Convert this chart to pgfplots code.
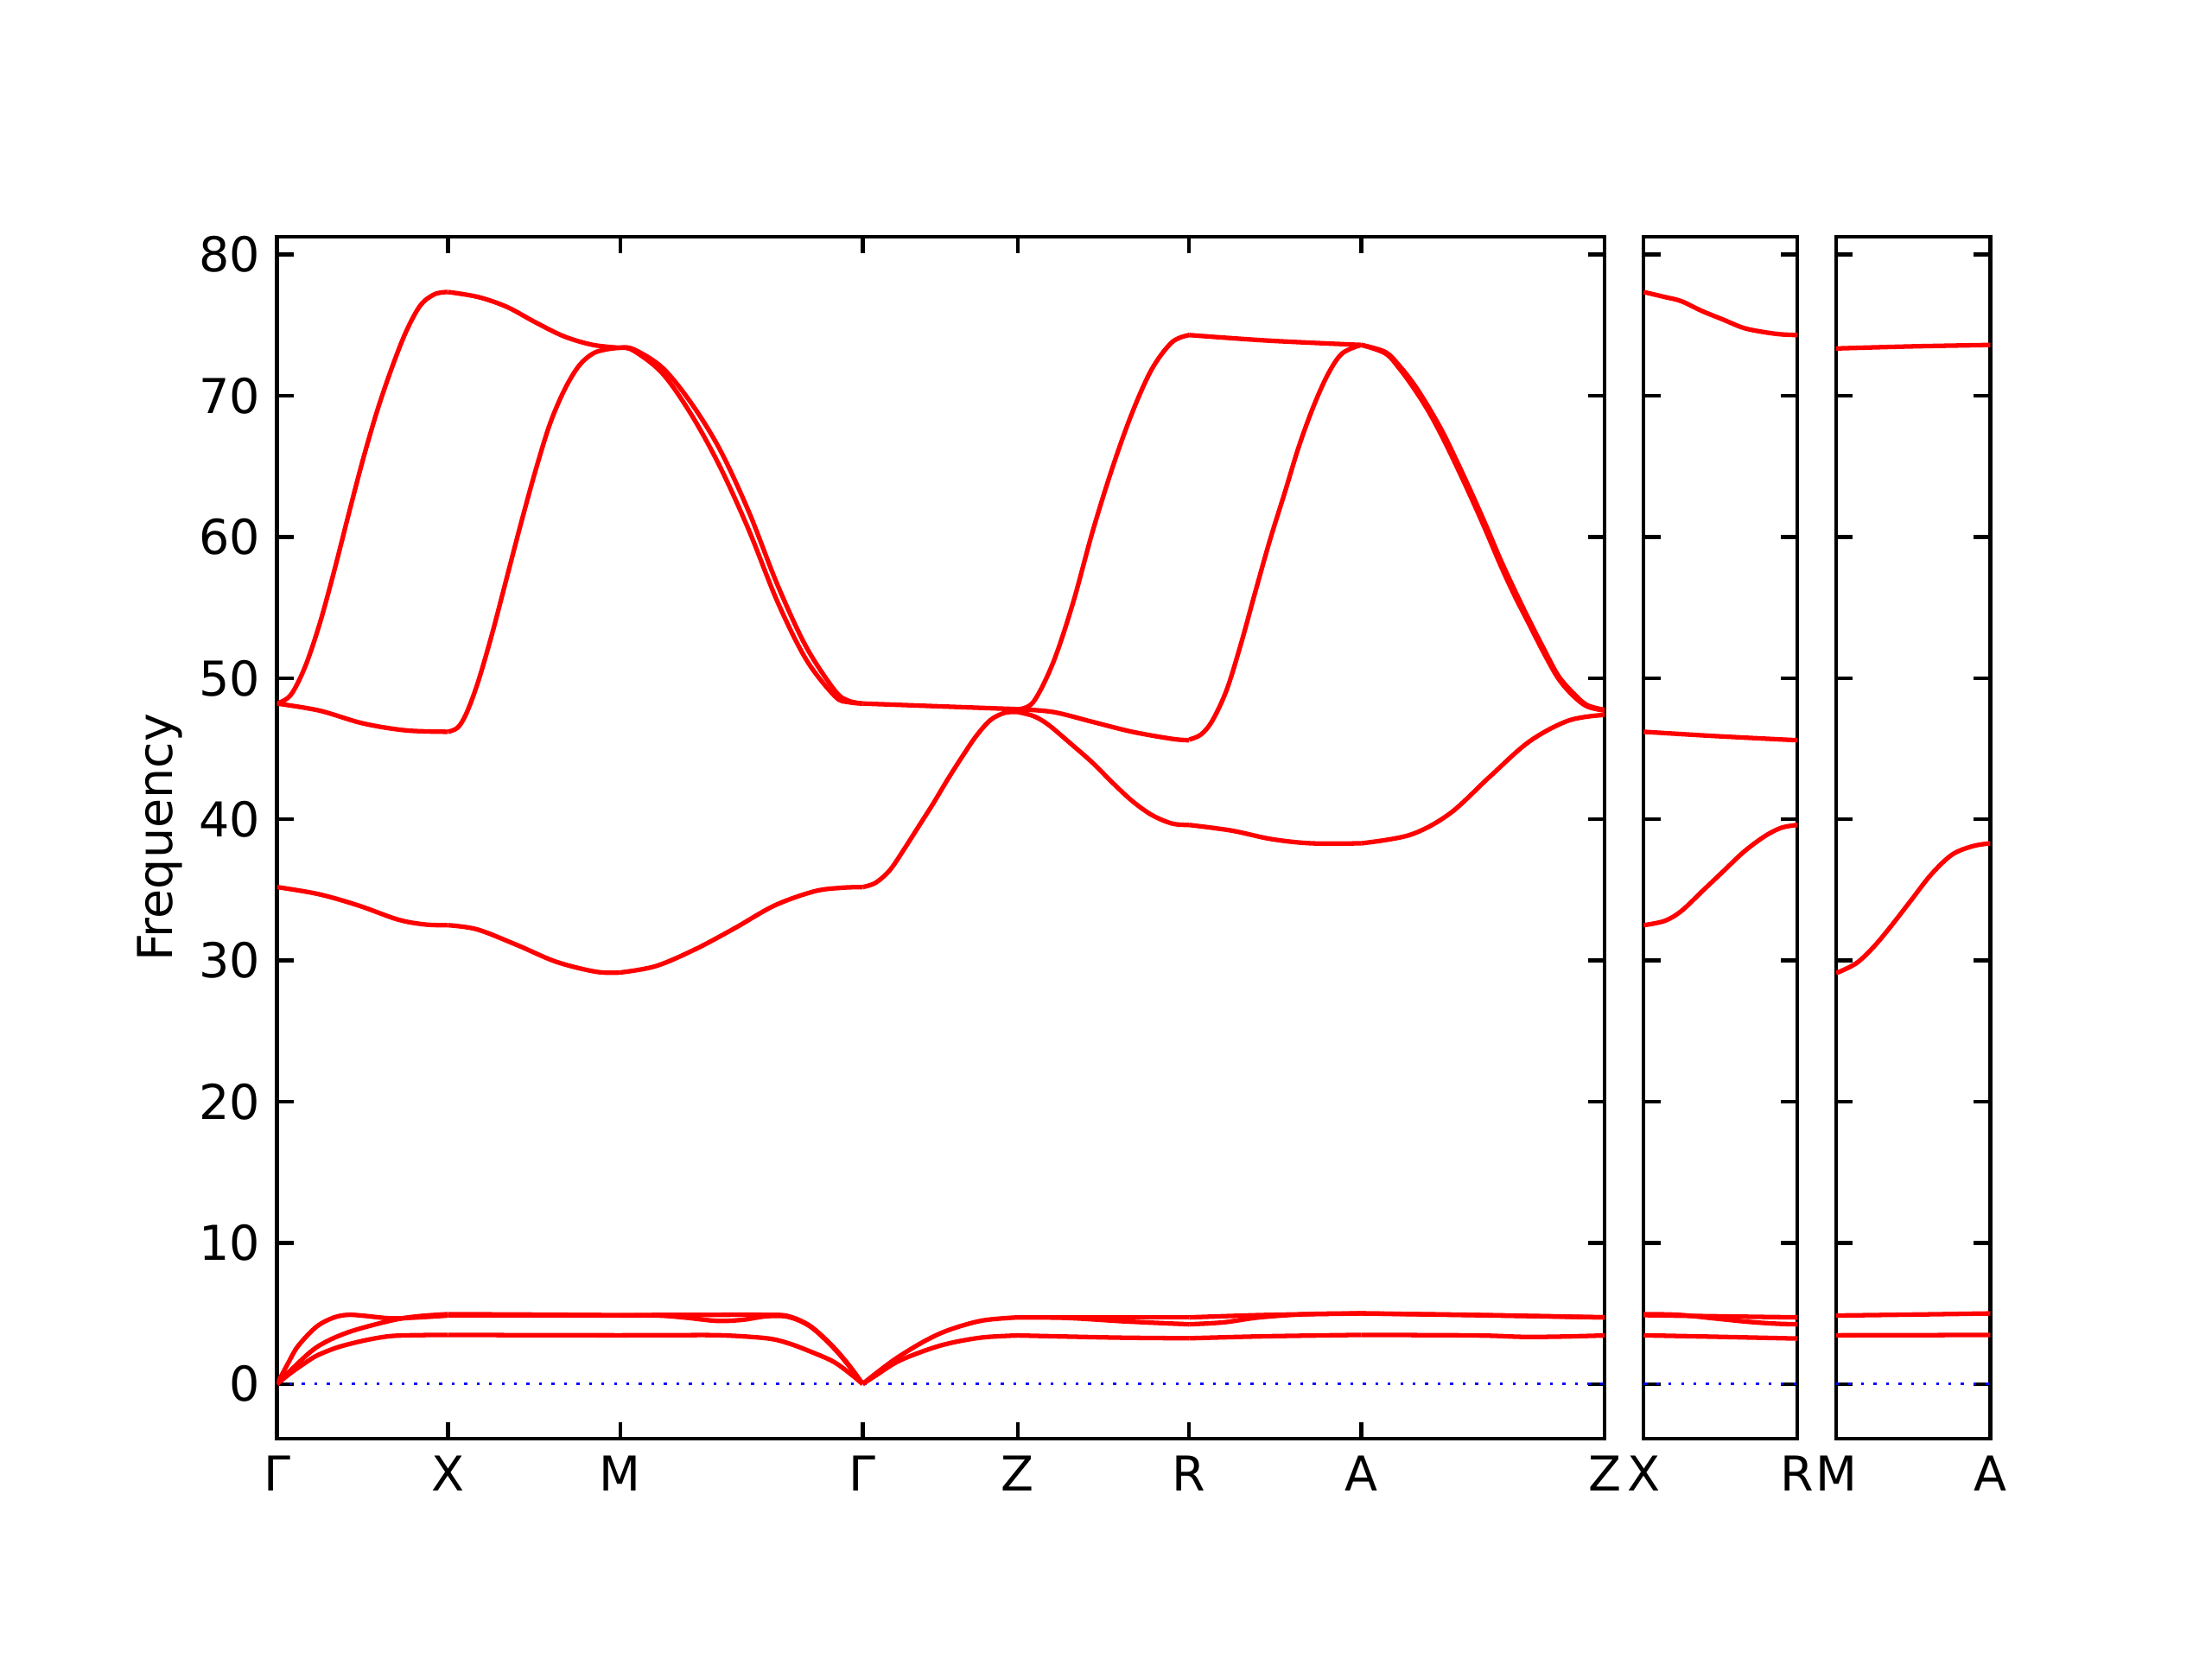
\documentclass[border=0pt]{standalone}
\usepackage{fontspec}
\setmainfont{DejaVu Sans}
\usepackage{pgfplots}
\pgfplotsset{compat=1.18}
\pgfplotsset{
  bandax/.style={
    scale only axis,
    height=250.4pt,
    ymin=-3.87, ymax=81.27,
    ytick={0,10,...,80},
    tick align=inside,
    tick pos=both,
    major tick length=3.5pt,
    every tick/.style={black, line width=0.8pt},
    axis line style={line width=0.8pt},
    /pgf/number format/assume math mode=true,
    ticklabel style={font=\fontsize{10}{12}\selectfont},
    label style={font=\fontsize{10}{12}\selectfont},
    clip=true,
  },
  band/.style={red, line width=0.95pt, smooth, tension=0.55},
  zero/.style={blue, dotted, line width=0.6pt},
}
\begin{document}
\begin{tikzpicture}
\useasboundingbox (0,0) rectangle (460.8pt,345.6pt);
% ---------------- main panel ----------------
\begin{axis}[bandax,
  at={(57.7pt,45.9pt)}, anchor=south west,
  width=276.6pt,
  xmin=0, xmax=940.9,
  xtick={0,121.2,243.2,415,525,646.4,768.4,940.9},
  xticklabels={Γ,X,M,Γ,Z,R,A,Z},
  ylabel={Frequency},
  ylabel shift=-3.5pt,
]
\addplot[zero] coordinates {(0,0) (940.9,0)};
% Gamma - X
\addplot[band] coordinates {(0,0) (10,0.8) (20,1.5) (28,2.0) (40,2.5) (50,2.8) (65,3.15) (81,3.4) (100,3.46) (121.2,3.48)};
\addplot[band] coordinates {(0,0) (10,1.0) (28,2.6) (50,3.65) (81,4.5) (100,4.8) (121.2,4.95)};
\addplot[band] coordinates {(0,0) (8,1.5) (15,2.7) (28,4.06) (40,4.7) (50,4.9) (60,4.85) (81,4.65) (100,4.72) (121.2,4.85)};
\addplot[band] coordinates {(0,35.2) (29.5,34.7) (57.6,33.9) (85.7,32.9) (105,32.55) (121.2,32.5)};
\addplot[band] coordinates {(0,48.2) (9.7,48.8) (19.9,50.8) (30.1,53.8) (40.3,57.5) (50.5,61.5) (60.7,65.4) (70.9,68.9) (81.1,71.9) (91.3,74.5) (101.6,76.4) (111.8,77.2) (121.2,77.35)};
\addplot[band] coordinates {(0,48.2) (30.1,47.7) (60.7,46.8) (91.3,46.3) (121.2,46.2)};
% X - M
\addplot[band] coordinates {(121.2,3.48) (180,3.46) (243.2,3.45)};
\addplot[band] coordinates {(121.2,4.95) (180,4.92) (243.2,4.88)};
\addplot[band] coordinates {(121.2,4.85) (180,4.85) (243.2,4.85)};
\addplot[band] coordinates {(121.2,32.5) (141.9,32.2) (170,31.1) (198.1,29.9) (226.2,29.2) (243.2,29.15)};
\addplot[band] coordinates {(121.2,77.35) (142.4,77.0) (162.8,76.3) (183.2,75.2) (203.6,74.2) (224,73.6) (243.2,73.4)};
\addplot[band] coordinates {(121.2,46.2) (128.1,46.5) (134.2,47.5) (142.4,49.7) (152.6,53.2) (162.8,57.1) (173,61.0) (183.2,64.7) (193.4,68.0) (203.6,70.4) (213.8,72.1) (224,73.0) (234.2,73.3) (243.2,73.4)};
% M - Gamma
\addplot[band] coordinates {(243.2,3.45) (280,3.46) (315,3.45) (347,3.24) (362,2.9) (378,2.3) (394,1.6) (406,0.75) (415,0)};
\addplot[band] coordinates {(243.2,4.88) (300,4.9) (347,4.9) (362.5,4.8) (378,4.1) (394,2.65) (406,1.25) (415,0)};
\addplot[band] coordinates {(243.2,4.85) (270,4.85) (290,4.7) (312,4.47) (330,4.55) (347,4.8) (362.5,4.75) (378,4.06) (394,2.6) (406,1.2) (415,0)};
\addplot[band] coordinates {(243.2,29.15) (268.4,29.6) (296.5,30.8) (324.6,32.3) (352.7,33.9) (380.8,34.9) (400,35.15) (415,35.2)};
\addplot[band] coordinates {(243.2,73.4) (252.6,73.3) (273,72.0) (293.4,69.5) (313.8,66.2) (334.3,61.8) (354.7,56.6) (375.1,52.2) (395.5,49.1) (405,48.4) (415,48.2)};
\addplot[band] coordinates {(243.2,73.4) (252.6,73.2) (273,71.6) (293.4,68.7) (313.8,65.0) (334.3,60.5) (354.7,55.4) (375.1,51.3) (395.5,48.7) (405,48.3) (415,48.2)};
% Gamma - Z
\addplot[band] coordinates {(415,0) (425,0.8) (440,1.9) (460,3.1) (477,3.86) (500,4.5) (525,4.72)};
\addplot[band] coordinates {(415,0) (425,0.65) (440,1.6) (460,2.4) (477,2.9) (500,3.3) (525,3.44)};
\addplot[band] coordinates {(415,35.2) (424.1,35.5) (434.3,36.4) (444.5,37.9) (454.7,39.5) (464.9,41.1) (475.1,42.8) (485.3,44.4) (495.5,45.9) (505.8,47.05) (516,47.55) (525,47.6)};
\addplot[band] coordinates {(415,48.2) (470,48.0) (525,47.8)};
% Z - R
\addplot[band] coordinates {(525,4.72) (580,4.72) (646.4,4.72)};
\addplot[band] coordinates {(525,4.72) (560,4.68) (602,4.43) (646.4,4.23)};
\addplot[band] coordinates {(525,3.44) (560,3.36) (600,3.28) (646.4,3.24)};
\addplot[band] coordinates {(525,47.8) (535.9,48.3) (550,51.1) (564,55.3) (578,60.4) (592,64.9) (606,68.8) (620,71.9) (634.3,73.8) (646.4,74.3)};
\addplot[band] coordinates {(525,47.8) (550,47.6) (578,46.9) (606,46.2) (634.3,45.7) (646.4,45.6)};
\addplot[band] coordinates {(525,47.6) (536.4,47.3) (546.6,46.7) (562,45.4) (578,44.0) (592,42.6) (606,41.3) (620,40.3) (634.3,39.7) (646.4,39.6)};
% R - A
\addplot[band] coordinates {(646.4,4.72) (700,4.89) (768.4,5.0)};
\addplot[band] coordinates {(646.4,4.23) (671,4.37) (696,4.72) (730,4.95) (768.4,5.0)};
\addplot[band] coordinates {(646.4,3.24) (700,3.38) (768.4,3.48)};
\addplot[band] coordinates {(646.4,74.3) (703.7,73.9) (768.4,73.6)};
\addplot[band] coordinates {(646.4,45.65) (654.7,46.0) (662.9,47.0) (673.1,49.2) (683.3,52.5) (693.5,56.2) (703.7,59.8) (714,63.1) (724.1,66.4) (734.3,69.2) (744.6,71.5) (754.8,73.0) (768.4,73.6)};
\addplot[band] coordinates {(646.4,39.6) (676.5,39.2) (704.6,38.6) (732.7,38.3) (768.4,38.3)};
% A - Z
\addplot[band] coordinates {(768.4,5.0) (852,4.89) (940.9,4.72)};
\addplot[band] coordinates {(768.4,5.0) (852,4.87) (940.9,4.72)};
\addplot[band] coordinates {(768.4,3.48) (850,3.44) (883,3.34) (910,3.36) (940.9,3.44)};
\addplot[band] coordinates {(768.4,73.6) (785.4,73.1) (795.6,72.1) (805.8,70.8) (816,69.2) (826.2,67.4) (836.4,65.3) (846.6,63.1) (856.8,60.8) (867,58.4) (877.2,56.2) (887.4,54.1) (897.6,52.1) (907.8,50.2) (918,49.0) (928.2,48.1) (940.9,47.75)};
\addplot[band] coordinates {(768.4,73.6) (785.4,73.0) (795.6,71.9) (805.8,70.5) (816,68.9) (826.2,67.0) (836.4,64.9) (846.6,62.7) (856.8,60.4) (867,58.0) (877.2,55.8) (887.4,53.8) (897.6,51.8) (907.8,50.0) (918,48.8) (928.2,48.0) (940.9,47.7)};
\addplot[band] coordinates {(768.4,38.3) (803,38.9) (831,40.4) (859.2,43.0) (887.3,45.5) (915.4,47.0) (940.9,47.4)};
\end{axis}
% ---------------- X - R panel ----------------
\begin{axis}[bandax,
  at={(342.4pt,45.9pt)}, anchor=south west,
  width=32.0pt,
  xmin=0, xmax=109,
  xtick={0,109},
  xticklabels={X,R},
  yticklabels={},
]
\addplot[zero] coordinates {(0,0) (109,0)};
\addplot[band] coordinates {(0,3.45) (50,3.35) (109,3.22)};
\addplot[band] coordinates {(0,4.88) (50,4.8) (109,4.72)};
\addplot[band] coordinates {(0,4.95) (25,4.9) (50,4.65) (75,4.4) (95,4.27) (109,4.23)};
\addplot[band] coordinates {(0,32.5) (14.8,32.8) (26.7,33.5) (41.5,34.9) (56.3,36.3) (71.1,37.7) (85.9,38.8) (97.7,39.4) (109,39.6)};
\addplot[band] coordinates {(0,46.2) (50,45.9) (109,45.6)};
\addplot[band] coordinates {(0,77.35) (14.8,77.0) (26.7,76.7) (41.5,76.0) (56.3,75.4) (71.1,74.8) (85.9,74.5) (97.7,74.35) (109,74.3)};
\end{axis}
% ---------------- M - A panel ----------------
\begin{axis}[bandax,
  at={(382.5pt,45.9pt)}, anchor=south west,
  width=32.1pt,
  xmin=0, xmax=110,
  xtick={0,110},
  xticklabels={M,A},
  yticklabels={},
]
\addplot[zero] coordinates {(0,0) (110,0)};
\addplot[band] coordinates {(0,3.45) (55,3.46) (110,3.48)};
\addplot[band] coordinates {(0,4.85) (55,4.92) (110,5.0)};
\addplot[band] coordinates {(0,29.1) (14.3,29.8) (26.2,30.9) (38.1,32.3) (53,34.2) (67.9,36.1) (82.8,37.5) (97.6,38.1) (110,38.3)};
\addplot[band] coordinates {(0,73.35) (55,73.5) (110,73.6)};
\end{axis}
\end{tikzpicture}
\end{document}
